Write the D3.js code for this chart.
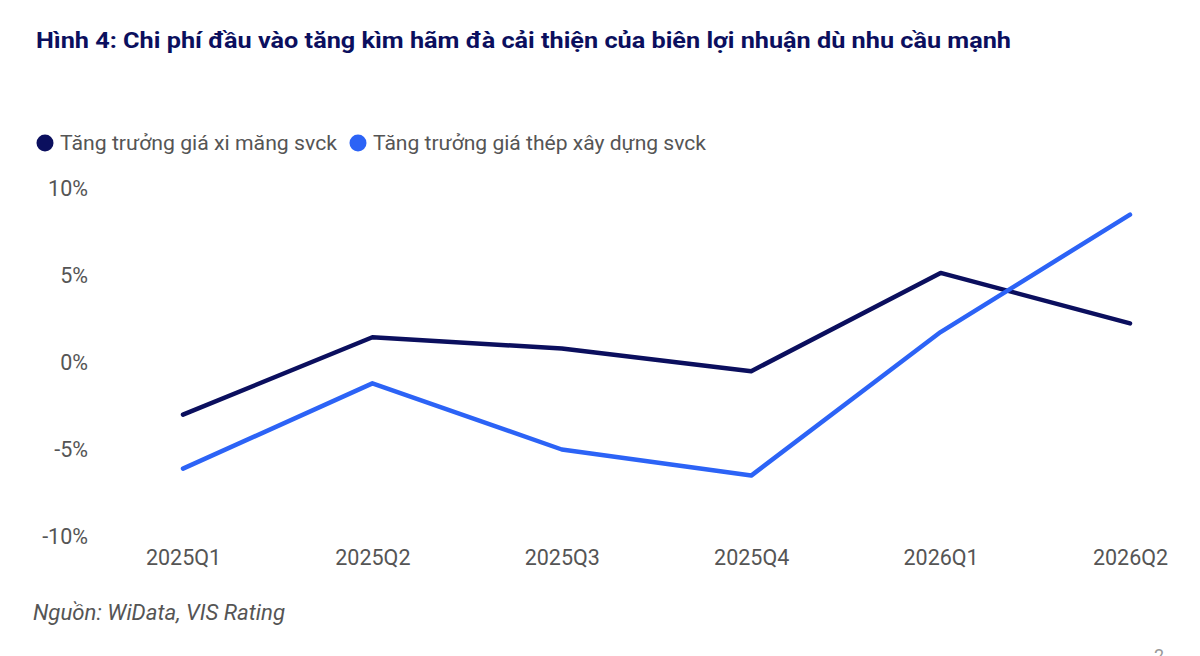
<!DOCTYPE html>
<html><head><meta charset="utf-8">
<script src="https://cdn.jsdelivr.net/npm/d3@7"></script>
<style>html,body{margin:0;padding:0;background:#fff;}svg{display:block;font-family:Roboto,"Noto Sans",sans-serif;}</style>
</head><body>
<svg id="c" width="1200" height="656"></svg>
<script>
const categories = ["2025Q1","2025Q2","2025Q3","2025Q4","2026Q1","2026Q2"];
const cementGrowth = [-3.0, 1.45, 0.8, -0.5, 5.15, 2.25];
const steelGrowth = [-6.1, -1.2, -5.0, -6.5, 1.75, 8.5];
const yTicks = [-10, -5, 0, 5, 10];
const seriesNames = ["Tăng trưởng giá xi măng svck", "Tăng trưởng giá thép xây dựng svck"];
const colors = ["#0b0f5e", "#2c63f6"];

const svg = d3.select("#c");
const x = d3.scalePoint().domain(categories).range([183, 1130]);
const y = d3.scaleLinear().domain([-10, 10]).range([536.5, 188.5]);

svg.append("text").attr("x", 36).attr("y", 48)
  .attr("font-size", 22).attr("font-weight", 700).attr("fill", "#0b0f5e")
  .attr("textLength", 975).attr("lengthAdjust", "spacingAndGlyphs")
  .text("Hình 4: Chi phí đầu vào tăng kìm hãm đà cải thiện của biên lợi nhuận dù nhu cầu mạnh");

// legend
const legX = [45, 358];
const legLen = [277, 333];
seriesNames.forEach((n, i) => {
  svg.append("circle").attr("cx", legX[i]).attr("cy", 143).attr("r", 8.5).attr("fill", colors[i]);
  svg.append("text").attr("x", legX[i] + 15).attr("y", 143).attr("dy", "0.35em")
    .attr("font-size", 21).attr("fill", "#555")
    .attr("textLength", legLen[i]).attr("lengthAdjust", "spacingAndGlyphs").text(n);
});

// y axis
const yAxis = d3.axisLeft(y).tickValues(yTicks).tickSize(0).tickPadding(0).tickFormat(d => d + "%");
const gy = svg.append("g").attr("transform", "translate(88,0)").call(yAxis);
gy.select(".domain").remove();
gy.selectAll("text").attr("font-size", 21.5).attr("fill", "#555").attr("font-family", "Roboto,sans-serif");

// x axis
const xAxis = d3.axisBottom(x).tickSize(0).tickPadding(0);
const gx = svg.append("g").attr("transform", "translate(0,550)").call(xAxis);
gx.select(".domain").remove();
gx.selectAll("text").attr("font-size", 21.5).attr("fill", "#555").attr("font-family", "Roboto,sans-serif");

const line = d3.line().x((d, i) => x(categories[i])).y(d => y(d));
[cementGrowth, steelGrowth].forEach((s, i) => {
  svg.append("path").datum(s).attr("d", line).attr("fill", "none")
    .attr("stroke", colors[i]).attr("stroke-width", 4.5)
    .attr("stroke-linecap", "round").attr("stroke-linejoin", "round");
});

svg.append("text").attr("x", 33).attr("y", 620).attr("font-size", 21.5)
  .attr("font-style", "italic").attr("fill", "#555")
  .attr("textLength", 252).attr("lengthAdjust", "spacingAndGlyphs")
  .text("Nguồn: WiData, VIS Rating");

svg.append("text").attr("x", 1159).attr("y", 662).attr("font-size", 18)
  .attr("fill", "#999").attr("text-anchor", "middle").text("2");
</script>
</body></html>
